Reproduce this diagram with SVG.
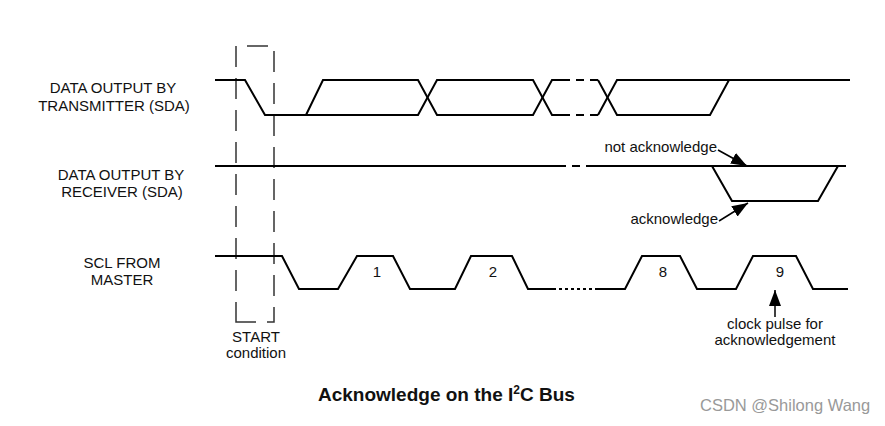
<svg xmlns="http://www.w3.org/2000/svg" width="885" height="426" viewBox="0 0 885 426">
  <defs>
    <style>
      .wave { fill: none; stroke: #000; stroke-width: 2; stroke-linejoin: miter; }
      .dash { fill: none; stroke: #333; stroke-width: 1.5; }
      .lbl { font-family: "Liberation Sans", Arial, sans-serif; font-size: 15px; fill: #111; text-anchor: middle; }
      .ann { font-family: "Liberation Sans", Arial, sans-serif; font-size: 15px; fill: #111; }
      .arrow { fill: none; stroke: #000; stroke-width: 1.5; }
    </style>
    <marker id="ah" viewBox="0 0 16 12" refX="16" refY="6" markerWidth="16" markerHeight="12" markerUnits="userSpaceOnUse" orient="auto">
      <path d="M0,0 L16,6 L0,12 z" fill="#000"/>
    </marker>
  </defs>
  <rect width="885" height="426" fill="#fff"/>

  <g id="labels">
    <text class="lbl" x="113" y="93">DATA OUTPUT BY</text>
    <text class="lbl" x="114" y="111">TRANSMITTER (SDA)</text>
    <text class="lbl" x="121" y="180">DATA OUTPUT BY</text>
    <text class="lbl" x="122" y="197">RECEIVER (SDA)</text>
    <text class="lbl" x="122" y="268">SCL FROM</text>
    <text class="lbl" x="122" y="285">MASTER</text>
  </g>

  <g id="start-condition">
    <path class="dash" d="M247,46 H268"/>
    <path class="dash" d="M236,46 V298" stroke-dasharray="21 11"/>
    <path class="dash" d="M236,302 V322 H256"/>
    <path class="dash" d="M274,51 V302" stroke-dasharray="21 11"/>
    <path class="dash" d="M274,307 V322 H267"/>
    <text class="lbl" x="256" y="342">START</text>
    <text class="lbl" x="256" y="358">condition</text>
  </g>

  <g id="sda-transmitter">
    <path class="wave" d="M215,80 H245 L265,115 H418 L437,80 H533 L552,115 H570"/>
    <path class="wave" d="M306,115 L323,80 H418 L437,115 H533 L552,80 H570"/>
    <path class="wave" d="M576,80 H584 M590,80 H598 M576,115 H584 M590,115 H598"/>
    <path class="wave" d="M598,80 L617,115 H710 L729,80"/>
    <path class="wave" d="M598,115 L617,80 H850"/>
  </g>

  <g id="sda-receiver">
    <path class="wave" d="M215,166 H566 M572,166 H580 M586,166 H846"/>
    <path class="wave" d="M712,166 L732,201 H818 L838,166"/>
  </g>

  <g id="scl">
    <path class="wave" d="M215,256 H282 L299,289 H338 L357,256 H393 L410,289 H455 L471,256 H512 L528,289 H556"/>
    <path class="wave" d="M559,289 H592" stroke-dasharray="3 3"/>
    <path class="wave" d="M595,289 H625 L642,256 H680 L697,289 H736 L753,256 H796 L813,289 H848"/>
    <text class="lbl" x="377" y="277">1</text>
    <text class="lbl" x="493" y="277">2</text>
    <text class="lbl" x="663" y="277">8</text>
    <text class="lbl" x="780" y="277">9</text>
  </g>

  <g id="connectors">
    <line class="arrow" x1="718" y1="150" x2="747" y2="166" marker-end="url(#ah)"/>
    <line class="arrow" x1="719" y1="221" x2="748" y2="203" marker-end="url(#ah)"/>
    <line class="arrow" x1="775" y1="317" x2="775" y2="290" marker-end="url(#ah)"/>
  </g>

  <g id="annotations">
    <text class="ann" x="717" y="152" text-anchor="end">not acknowledge</text>
    <text class="ann" x="718" y="224" text-anchor="end">acknowledge</text>
    <text class="lbl" x="775" y="329">clock pulse for</text>
    <text class="lbl" x="775" y="345">acknowledgement</text>
  </g>

  <g id="title">
    <text x="318" y="401" font-family="'Liberation Sans', Arial, sans-serif" font-size="19" font-weight="bold" fill="#111">Acknowledge on the I<tspan font-size="12" dy="-7">2</tspan><tspan dy="7">C Bus</tspan></text>
  </g>

  <g id="watermark">
    <text x="700" y="411" font-family="'Liberation Sans', sans-serif" font-size="16.5" fill="#999">CSDN @Shilong Wang</text>
  </g>
</svg>
